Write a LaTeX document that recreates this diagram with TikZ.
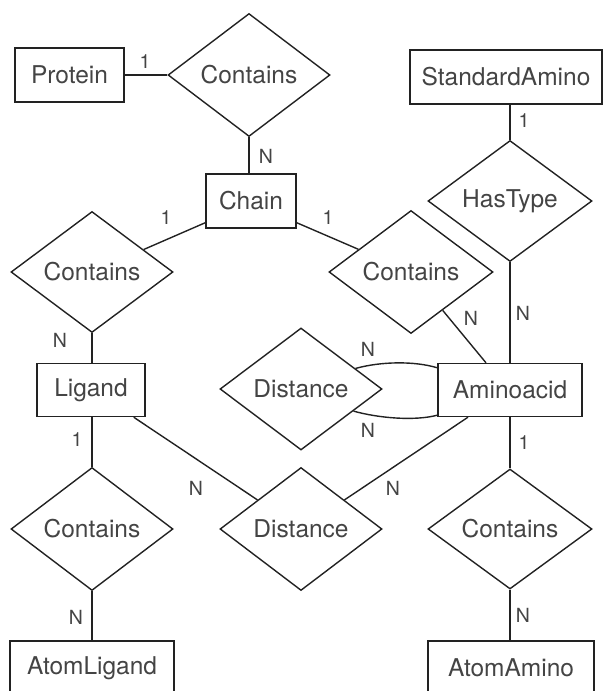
\documentclass[tikz,border=0pt]{standalone}
\usepackage{fontspec}
\setmainfont{TeX Gyre Heros}
\usetikzlibrary{shapes.geometric,calc}
\definecolor{linec}{HTML}{222222}
\definecolor{textc}{HTML}{444444}
\tikzset{
  ent/.style={draw=linec, line width=1.4pt, rectangle, inner sep=0pt, minimum height=54pt, text=textc, font=\fontsize{24.5}{28}\selectfont},
  rel/.style={draw=linec, line width=1.4pt, diamond, inner sep=0pt, text=textc, font=\fontsize{24.5}{28}\selectfont},
  conn/.style={draw=linec, line width=1.4pt},
  card/.style={text=textc, font=\fontsize{19.5}{22}\selectfont, inner sep=0pt}
}
\begin{document}
\begin{tikzpicture}[x=1pt,y=-1pt]
\useasboundingbox (0,0) rectangle (608,691);
\clip (0,0) rectangle (608,691);
% entities
\node[ent, minimum width=109pt] (protein) at (69.5,75) {Protein};
\node[ent, minimum width=90pt] (chain) at (251,201) {Chain};
\node[ent, minimum width=192pt] (stdamino) at (506,77) {StandardAmino};
\node[ent, minimum width=108pt, minimum height=53pt] (ligand) at (91,390) {Ligand};
\node[ent, minimum width=144pt, minimum height=53pt] (amino) at (510,390) {Aminoacid};
\node[ent, minimum width=164pt] (atomlig) at (92,668) {AtomLigand};
\node[ent, minimum width=166pt] (atomamino) at (511,668) {AtomAmino};
% relationships
\node[rel, minimum width=162pt, minimum height=123pt] (c1) at (249,75) {Contains};
\node[rel, minimum width=164pt, minimum height=121pt] (hastype) at (510,201) {HasType};
\node[rel, minimum width=164pt, minimum height=123pt] (c2) at (411,272) {Contains};
\node[rel, minimum width=162pt, minimum height=121pt] (c3) at (92,272) {Contains};
\node[rel, minimum width=162pt, minimum height=122pt] (dist1) at (301,389) {Distance};
\node[rel, minimum width=162pt, minimum height=123pt] (dist2) at (301,529) {Distance};
\node[rel, minimum width=164pt, minimum height=120pt] (c4) at (510,529) {Contains};
\node[rel, minimum width=162pt, minimum height=123pt] (c5) at (92,529) {Contains};
% helper coordinates
\coordinate (chainL) at ($(chain.south west)+(0,-6)$);
\coordinate (chainR) at ($(chain.south east)+(0,-6)$);
\coordinate (aminoT) at ($(amino.north)+(-24,0)$);
\coordinate (ligBR) at ($(ligand.south east)+(-12,0)$);
\coordinate (aminoBL) at ($(amino.south)+(-42,0)$);
\coordinate (d1u) at ($(dist1.east)!0.333!(dist1.north)$);
\coordinate (d1l) at ($(dist1.east)!0.358!(dist1.south)$);
\coordinate (amU) at ($(amino.north west)+(0,5)$);
\coordinate (amL) at ($(amino.south west)+(0,-2)$);
% connectors
\draw[conn] (protein.east) -- (c1.west);
\draw[conn] (c1.south) -- (c1.south |- chain.north);
\draw[conn] (hastype.north) -- (hastype.north |- stdamino.south);
\draw[conn] (hastype.south) -- (amino.north);
\draw[conn] (chainL) -- (c3);
\draw[conn] (chainR) -- (c2);
\draw[conn] (aminoT) -- (c2);
\draw[conn] (c3.south) -- (c3.south |- ligand.north);
\draw[conn] (c5.north) -- (c5.north |- ligand.south);
\draw[conn] (c5.south) -- (c5.south |- atomlig.north);
\draw[conn] (amino.south) -- (c4.north);
\draw[conn] (c4.south) -- (c4.south |- atomamino.north);
\draw[conn] (ligBR) -- (dist2);
\draw[conn] (aminoBL) -- (dist2);
\draw[conn] (d1u) .. controls +(25,-7) and +(-23,-7) .. (amU);
\draw[conn] (d1l) .. controls +(25,7) and +(-23,6) .. (amL);
% cardinalities
\node[card] (l1) at (145,62) {1};
\node[card] (l2) at (266,156) {N};
\node[card] (l3) at (524,121) {1};
\node[card] (l4) at (523,313) {N};
\node[card] (l5) at (166,218) {1};
\node[card] (l6) at (328,218) {1};
\node[card] (l7) at (471,318) {N};
\node[card] (l8) at (60,340) {N};
\node[card] (l9) at (77,440) {1};
\node[card] (l10) at (76,617) {N};
\node[card] (l11) at (524,443) {1};
\node[card] (l12) at (523,615) {N};
\node[card] (l13) at (196,488) {N};
\node[card] (l14) at (393,488) {N};
\node[card] (l15) at (368,349) {N};
\node[card] (l16) at (368,430) {N};
\end{tikzpicture}
\end{document}
